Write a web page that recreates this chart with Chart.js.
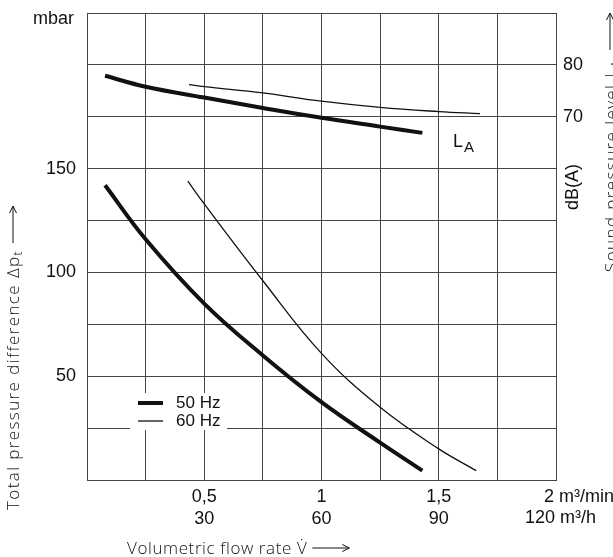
<!DOCTYPE html>
<html>
<head>
<meta charset="utf-8">
<script src="https://cdn.jsdelivr.net/npm/chart.js@4"></script>
<style>
  html, body { margin: 0; padding: 0; background: #fff; }
  #wrap { width: 613px; height: 557px; position: relative; }
</style>
</head>
<body>
<div id="wrap"><canvas id="chart"></canvas></div>
<script>
"use strict";

// Kennlinien, Volumenstrom in m3/min
const flow50 = [0.077, 0.25, 0.5, 0.75, 1.0, 1.25, 1.43];
const dp50 = [142, 116, 85, 60, 37.5, 18, 4.5];

const flow60 = [0.43, 0.5, 0.75, 1.0, 1.25, 1.5, 1.66];
const dp60 = [144, 133, 96, 61, 35, 15, 4.5];

// Schalldruckpegel LA, dB(A)
const flowLA50 = [0.077, 0.25, 0.5, 0.75, 1.0, 1.25, 1.43];
const la50 = [77.9, 75.8, 73.7, 71.7, 69.8, 68.1, 66.9];

const flowLA60 = [0.435, 0.5, 0.75, 1.0, 1.25, 1.5, 1.676];
const la60 = [76.2, 75.8, 74.6, 73.0, 71.8, 71.0, 70.6];

// Achsbeschriftungen
const flowTickValues = [0.5, 1, 1.5, 2];
const flowMinLabels = ["0,5", "1", "1,5", "2"];
const flowHourLabels = ["30", "60", "90", "120"];
const pressureTicks = [50, 100, 150];
const levelTicks = [70, 80];

const tickFont = "Liberation Sans, Arial, sans-serif";
const titleFont = "'Open Sans', 'Liberation Sans', sans-serif";
const ink = "#111";
const gridColor = "#444";

function pts(xs, ys) {
  return xs.map((x, i) => ({ x: x, y: ys[i] }));
}

// kleiner Pfeil (offene Spitze) im aktuellen Koordinatensystem
function arrow(ctx, x0, x1, y) {
  ctx.beginPath();
  ctx.moveTo(x0, y);
  ctx.lineTo(x1, y);
  ctx.moveTo(x1 - 7, y - 3.5);
  ctx.lineTo(x1, y);
  ctx.lineTo(x1 - 7, y + 3.5);
  ctx.stroke();
}

const extraText = {
  id: "extraText",
  afterDraw(chart) {
    const ctx = chart.ctx;
    const xs = chart.scales.x;
    ctx.save();
    ctx.fillStyle = ink;
    ctx.strokeStyle = ink;
    ctx.lineWidth = 1;

    // Einheit oben links
    ctx.font = "18px " + tickFont;
    ctx.textAlign = "right";
    ctx.textBaseline = "alphabetic";
    ctx.fillText("mbar", 74, 24);

    // letzte Spalte der x-Beschriftung mit Einheiten
    const last = flowTickValues.length - 1;
    const xEnd = xs.getPixelForValue(flowTickValues[last]);
    ctx.textAlign = "left";
    ctx.textBaseline = "middle";
    const w2 = ctx.measureText(flowMinLabels[last]).width;
    ctx.fillText(flowMinLabels[last] + " m³/min", xEnd - w2 - 2, 497);
    ctx.fillText(flowHourLabels[last] + " m³/h", xEnd - 31, 518);

    // x-Achsentitel
    ctx.font = "300 17px " + titleFont;
    ctx.letterSpacing = "0.6px";
    ctx.textBaseline = "alphabetic";
    ctx.textAlign = "left";
    const xt = "Volumetric flow rate V\u0307";
    ctx.fillText(xt, 127, 554);
    const xtw = ctx.measureText(xt).width;
    arrow(ctx, 127 + xtw + 5, 127 + xtw + 42, 548);

    // linker Achsentitel (gedreht)
    ctx.letterSpacing = "1.4px";
    ctx.save();
    ctx.translate(19, 510);
    ctx.rotate(-Math.PI / 2);
    const yt = "Total pressure difference Δp";
    ctx.fillText(yt, 0, 0);
    let w = ctx.measureText(yt).width;
    ctx.font = "300 12px " + titleFont;
    ctx.fillText("t", w, 3);
    w += ctx.measureText("t").width;
    arrow(ctx, w + 7, w + 44, -6);
    ctx.restore();

    // rechte Achse: dB(A)
    ctx.letterSpacing = "0px";
    ctx.save();
    ctx.translate(578, 210);
    ctx.rotate(-Math.PI / 2);
    ctx.font = "18px " + tickFont;
    ctx.fillText("dB(A)", 0, 0);
    ctx.restore();

    // rechter Achsentitel, am Rand abgeschnitten
    ctx.letterSpacing = "1.4px";
    ctx.save();
    ctx.translate(616.5, 272);
    ctx.rotate(-Math.PI / 2);
    ctx.font = "300 17px " + titleFont;
    const rt = "Sound pressure level L";
    ctx.fillText(rt, 0, 0);
    const rw = ctx.measureText(rt).width;
    ctx.font = "300 12px " + titleFont;
    ctx.fillText("A", rw, 3);
    arrow(ctx, 222, 259, -6.5);
    ctx.restore();
    ctx.letterSpacing = "0px";

    // Kurvenbezeichnung LA
    ctx.font = "18px " + tickFont;
    ctx.fillText("L", 453, 147);
    ctx.font = "15px " + tickFont;
    ctx.fillText("A", 464, 152);

    // Legende mit weissem Hintergrund
    ctx.fillStyle = "#fff";
    ctx.fillRect(130, 393, 97, 37);
    ctx.fillStyle = ink;
    ctx.lineWidth = 4;
    ctx.beginPath();
    ctx.moveTo(138, 403);
    ctx.lineTo(163, 403);
    ctx.stroke();
    ctx.lineWidth = 1.3;
    ctx.beginPath();
    ctx.moveTo(138, 421);
    ctx.lineTo(163, 421);
    ctx.stroke();
    ctx.font = "17px " + tickFont;
    ctx.textBaseline = "middle";
    ctx.fillText("50 Hz", 176, 403);
    ctx.fillText("60 Hz", 176, 421);

    ctx.restore();
  },
};

new Chart(document.getElementById("chart"), {
  type: "line",
  data: {
    datasets: [
      {
        label: "50 Hz",
        data: pts(flow50, dp50),
        borderColor: ink,
        borderWidth: 4,
        yAxisID: "y",
      },
      {
        label: "60 Hz",
        data: pts(flow60, dp60),
        borderColor: ink,
        borderWidth: 1.3,
        yAxisID: "y",
      },
      {
        label: "LA 50 Hz",
        data: pts(flowLA50, la50),
        borderColor: ink,
        borderWidth: 4,
        yAxisID: "y2",
      },
      {
        label: "LA 60 Hz",
        data: pts(flowLA60, la60),
        borderColor: ink,
        borderWidth: 1.3,
        yAxisID: "y2",
      },
    ],
  },
  options: {
    responsive: true,
    maintainAspectRatio: false,
    animation: false,
    layout: { padding: { top: 13, left: 0, right: 0, bottom: 0 } },
    elements: {
      point: { radius: 0 },
      line: { tension: 0.4, fill: false },
    },
    plugins: {
      legend: { display: false },
      tooltip: { enabled: false },
    },
    scales: {
      x: {
        type: "linear",
        min: 0,
        max: 2,
        afterFit(scale) {
          scale.height = 77;
          scale.paddingLeft = 0;
          scale.paddingRight = 0;
        },
        grid: { color: gridColor, lineWidth: 1, drawTicks: false },
        border: { color: gridColor, width: 1 },
        ticks: {
          stepSize: 0.25,
          autoSkip: false,
          maxRotation: 0,
          padding: 7,
          color: ink,
          font: { family: tickFont, size: 18, lineHeight: 1.17 },
          callback(value) {
            const i = flowTickValues.indexOf(value);
            if (i < 0 || i === flowTickValues.length - 1) return "";
            return [flowMinLabels[i], flowHourLabels[i]];
          },
        },
      },
      y: {
        position: "left",
        min: 0,
        max: 225,
        afterFit(scale) {
          scale.width = 87;
          scale.paddingTop = 0;
          scale.paddingBottom = 0;
        },
        grid: { color: gridColor, lineWidth: 1, drawTicks: false },
        border: { color: gridColor, width: 1 },
        ticks: {
          stepSize: 25,
          autoSkip: false,
          padding: 11,
          color: ink,
          font: { family: tickFont, size: 18 },
          callback(value) {
            return pressureTicks.includes(value) ? String(value) : "";
          },
        },
      },
      y2: {
        position: "right",
        min: 0,
        max: 90,
        afterFit(scale) {
          scale.width = 57;
          scale.paddingTop = 0;
          scale.paddingBottom = 0;
        },
        grid: { display: false, drawTicks: false },
        border: { display: false },
        ticks: {
          stepSize: 10,
          autoSkip: false,
          padding: 7,
          color: ink,
          font: { family: tickFont, size: 18 },
          callback(value) {
            return levelTicks.includes(value) ? String(value) : "";
          },
        },
      },
    },
  },
  plugins: [extraText],
});
</script>
</body>
</html>
